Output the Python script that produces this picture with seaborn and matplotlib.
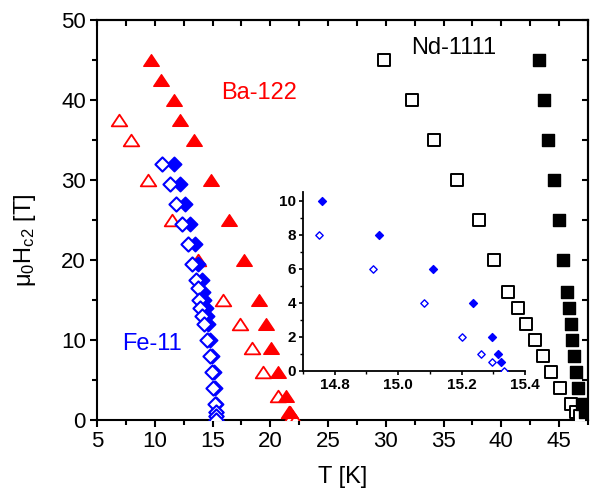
import matplotlib
matplotlib.use("Agg")
import matplotlib.pyplot as plt
from matplotlib.path import Path
from matplotlib.ticker import MultipleLocator
import seaborn as sns
import pandas as pd

# ---------------- data ----------------
ba_open_T = [6.9, 7.9, 9.4, 11.5, 13.75, 15.9, 17.4, 18.4, 19.4, 20.65, 21.6, 21.85, 22.1]
ba_open_H = [37.5, 35, 30, 25, 20, 15, 12, 9, 6, 3, 1, 0.5, 0]
ba_fill_T = [9.7, 10.55, 11.65, 12.2, 13.4, 14.85, 16.45, 17.7, 19.0, 19.6, 20.05, 20.7, 21.4, 21.7]
ba_fill_H = [45, 42.5, 40, 37.5, 35, 30, 25, 20, 15, 12, 9, 6, 3, 1]

fe_open_T = [10.6, 11.3, 11.85, 12.35, 12.9, 13.2, 13.55, 13.7, 13.85, 13.95, 14.1, 14.3,
             14.5, 14.75, 14.92, 15.08, 15.2, 15.26, 15.295, 15.335]
fe_open_H = [32, 29.5, 27, 24.5, 22, 19.5, 17.5, 16.5, 15, 14, 13, 12, 10, 8, 6, 4, 2, 1, 0.5, 0]
fe_fill_T = [11.7, 12.2, 12.6, 13.05, 13.45, 13.75, 14.05, 14.2, 14.3, 14.4, 14.5, 14.6,
             14.76, 14.94, 15.11, 15.235, 15.295, 15.315, 15.325]
fe_fill_H = [32, 29.5, 27, 24.5, 22, 19.5, 17.5, 16, 15, 14, 13, 12, 10, 8, 6, 4, 2, 1, 0.5]

nd_open_T = [29.8, 32.25, 34.2, 36.2, 38.1, 39.35, 40.6, 41.4, 42.1, 42.9, 43.6, 44.3, 45.1, 46.0, 46.5, 46.8]
nd_open_H = [45, 40, 35, 30, 25, 20, 16, 14, 12, 10, 8, 6, 4, 2, 1, 0.5]
nd_fill_T = [43.3, 43.65, 44.05, 44.6, 45.0, 45.35, 45.7, 45.85, 46.0, 46.15, 46.3, 46.45, 46.65, 46.95, 47.2]
nd_fill_H = [45, 40, 35, 30, 25, 20, 16, 14, 12, 10, 8, 6, 4, 2, 1]

x_ticks = [5, 10, 15, 20, 25, 30, 35, 40, 45]
y_ticks = [0, 10, 20, 30, 40, 50]
inset_x_ticks = [14.8, 15.0, 15.2, 15.4]
inset_y_ticks = [0, 2, 4, 6, 8, 10]

# ---------------- style ----------------
sns.set_style("ticks")
plt.rcParams["font.family"] = ["Liberation Sans", "DejaVu Sans"]
plt.rcParams["mathtext.fontset"] = "custom"
plt.rcParams["mathtext.rm"] = "Liberation Sans"
plt.rcParams["mathtext.default"] = "regular"
plt.rcParams["axes.linewidth"] = 1.5
for k in ["text.color", "axes.labelcolor", "xtick.color", "ytick.color", "axes.edgecolor"]:
    plt.rcParams[k] = "black"

RED = "#ff0000"
BLUE = "#0000ff"

tri = Path([(-1, -0.75), (1, -0.75), (0, 0.75), (-1, -0.75)],
           [Path.MOVETO, Path.LINETO, Path.LINETO, Path.CLOSEPOLY])

fig = plt.figure(figsize=(5.95, 4.92), dpi=100)
ax = fig.add_axes([97 / 595, 1 - 420 / 492, (588 - 97) / 595, 400 / 492])


def sc(axis, T, H, marker, s, face, edge, lw, z):
    df = pd.DataFrame({"T": T, "H": H})
    sns.scatterplot(data=df, x="T", y="H", ax=axis, marker=marker, s=s,
                    facecolor=face, edgecolor=edge, linewidth=lw, zorder=z,
                    legend=False, clip_on=True)


sc(ax, ba_open_T, ba_open_H, tri, 125, "white", RED, 1.3, 3)
sc(ax, ba_fill_T, ba_fill_H, tri, 125, RED, RED, 1.0, 4)
sc(ax, fe_fill_T, fe_fill_H, "D", 52, BLUE, BLUE, 1.3, 5)
sc(ax, fe_open_T, fe_open_H, "D", 52, "white", BLUE, 1.5, 6)
sc(ax, nd_open_T, nd_open_H, "s", 75, "white", "black", 1.4, 5)
sc(ax, nd_fill_T, nd_fill_H, "s", 75, "black", "black", 1.0, 6)

ax.set_xlim(5, 47.5)
ax.set_ylim(0, 50)
ax.set_xticks(x_ticks)
ax.set_yticks(y_ticks)
ax.xaxis.set_minor_locator(MultipleLocator(2.5))
ax.yaxis.set_minor_locator(MultipleLocator(5))
ax.tick_params(which="major", direction="out", length=5, width=1.5, labelsize=16, pad=3)
ax.tick_params(which="minor", direction="out", length=3.5, width=1.5)

top = ax.secondary_xaxis("top")
top.set_xticks(x_ticks)
top.xaxis.set_minor_locator(MultipleLocator(2.5))
top.tick_params(which="both", direction="in", length=4, width=1.5, labeltop=False)
right = ax.secondary_yaxis("right")
right.set_yticks(y_ticks)
right.yaxis.set_minor_locator(MultipleLocator(5))
right.tick_params(which="both", direction="in", length=4, width=1.5, labelright=False)

ax.set_xlabel("T [K]", fontsize=17)
ax.set_ylabel("μ$_0$H$_{c2}$ [T]", fontsize=17)
ax.xaxis.set_label_coords(0.5, -0.115)
ax.yaxis.set_label_coords(-0.12, 0.45)

ax.text(19.0, 40.9, "Ba-122", color=RED, fontsize=17, ha="center", va="center")
ax.text(35.9, 46.5, "Nd-1111", color="black", fontsize=17, ha="center", va="center")
ax.text(9.8, 9.5, "Fe-11", color=BLUE, fontsize=17, ha="center", va="center")

# ---------------- inset ----------------
axi = fig.add_axes([303 / 595, 1 - 371 / 492, (525 - 303) / 595, (371 - 192) / 492])
axi.patch.set_alpha(0)
sc(axi, fe_open_T, fe_open_H, "D", 14, "white", BLUE, 1.0, 5)
sc(axi, fe_fill_T, fe_fill_H, "D", 16, BLUE, BLUE, 1.0, 6)
axi.set_xlim(14.7, 15.4)
axi.set_ylim(0, 10.5)
axi.set_xticks(inset_x_ticks)
axi.set_yticks(inset_y_ticks)
axi.set_xticklabels([f"{v:.1f}" for v in inset_x_ticks], fontweight="bold")
axi.set_yticklabels([str(v) for v in inset_y_ticks], fontweight="bold")
axi.xaxis.set_minor_locator(MultipleLocator(0.1))
axi.yaxis.set_minor_locator(MultipleLocator(1))
axi.tick_params(which="major", direction="out", length=3, width=1.2, labelsize=11, pad=2)
axi.tick_params(which="minor", direction="out", length=2, width=1.0)
for sp in ["top", "right"]:
    axi.spines[sp].set_visible(False)
for sp in ["left", "bottom"]:
    axi.spines[sp].set_linewidth(1.3)
axi.set_xlabel("")
axi.set_ylabel("")

fig.savefig("out.png", dpi=100)
